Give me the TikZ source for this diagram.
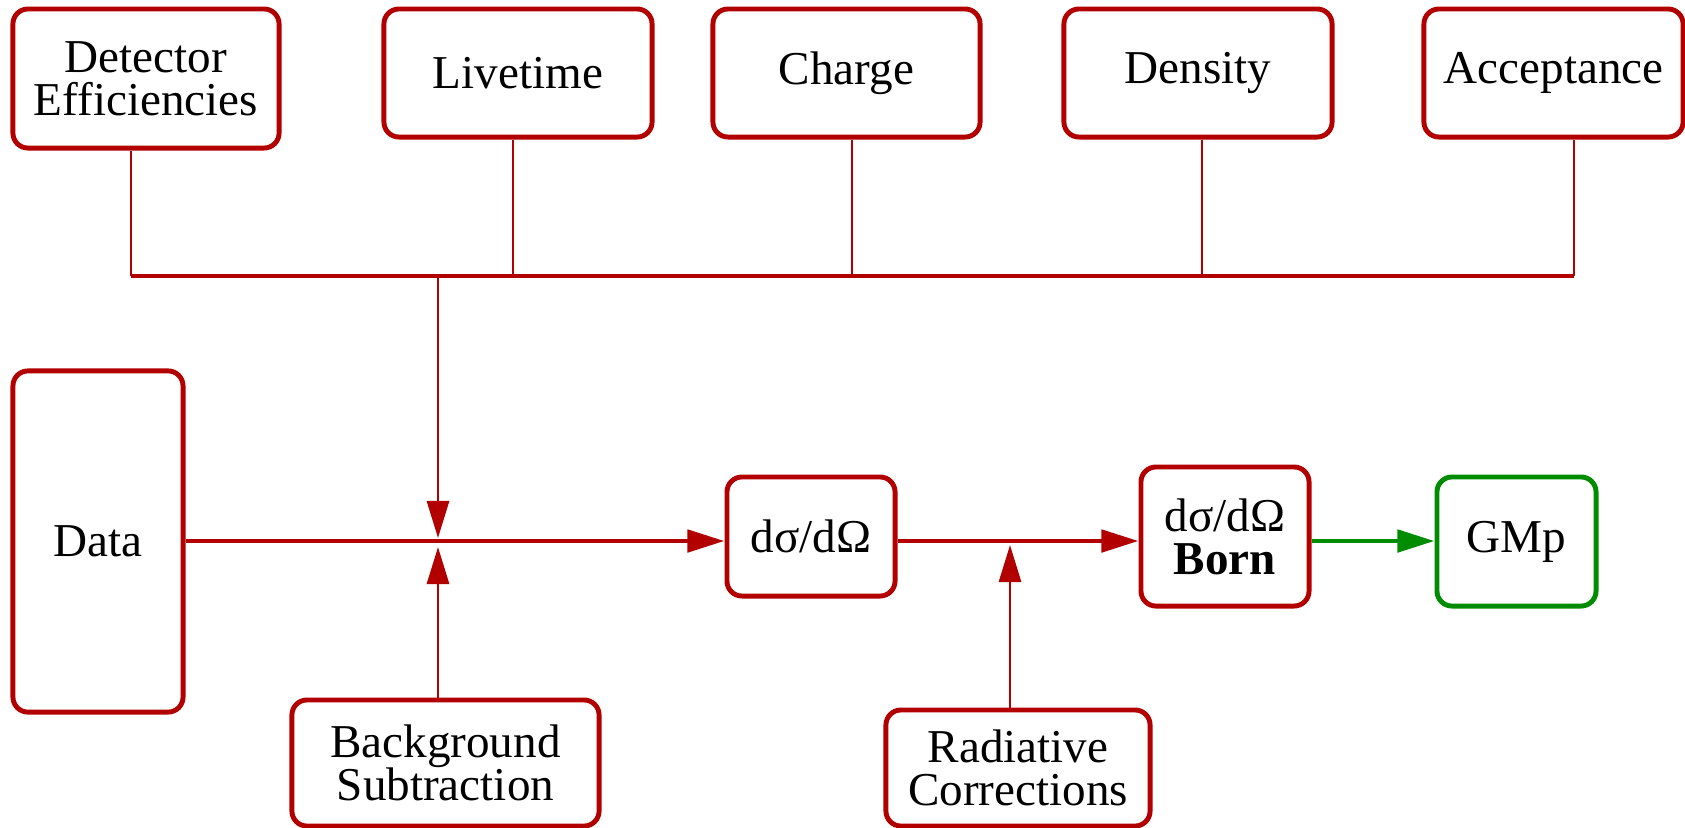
\documentclass[tikz,border=0pt]{standalone}
\usepackage{fontspec}
\setmainfont{Liberation Serif}
\usetikzlibrary{arrows.meta}

\definecolor{flowred}{RGB}{178,0,0}
\definecolor{flowgreen}{RGB}{0,140,0}

\tikzset{
  box/.style={draw=flowred, line width=1.4pt, rounded corners=0.15cm,
    align=center, inner sep=0pt, font=\fontsize{13.4}{12.3}\selectfont},
  feed/.style={flowred, line width=0.8pt},
  trunk/.style={flowred, line width=1.4pt},
}

\begin{document}
\begin{tikzpicture}[x=0.01cm, y=-0.01cm, >={Triangle[length=3.7mm,width=2.2mm]}]
  \useasboundingbox (0,0) rectangle (1685,827);

  % correction inputs on top
  \node[box, minimum width=2.66cm, minimum height=1.39cm] (det) at (146,78.5) {Detector\\Efficiencies};
  \node[box, minimum width=2.68cm, minimum height=1.28cm] (live) at (518,73) {Livetime};
  \node[box, minimum width=2.67cm, minimum height=1.28cm] (charge) at (846.5,73) {Charge};
  \node[box, minimum width=2.68cm, minimum height=1.28cm] (dens) at (1198,73) {Density};
  \node[box, minimum width=2.59cm, minimum height=1.28cm] (acc) at (1553.5,73) {Acceptance};

  % main chain
  \node[box, minimum width=1.70cm, minimum height=3.41cm] (data) at (98,541.5) {Data};
  \node[box, minimum width=1.68cm, minimum height=1.19cm] (xs) at (811,536.5) {dσ/dΩ};
  \node[box, minimum width=1.68cm, minimum height=1.39cm] (born) at (1225,536.5) {dσ/dΩ\\\textbf{Born}};
  \node[box, draw=flowgreen, minimum width=1.59cm, minimum height=1.29cm] (gmp) at (1516.5,541.5) {GMp};

  % lower inputs
  \node[box, minimum width=3.07cm, minimum height=1.26cm] (bkg) at (445.5,763) {Background\\Subtraction};
  \node[box, minimum width=2.64cm, minimum height=1.16cm] (rad) at (1018,768) {Radiative\\Corrections};

  \coordinate (bus) at (438,276);
  \coordinate (mix) at (438,541);
  \coordinate (rmix) at (1010,541);

  \foreach \n/\x in {det/131, live/513, charge/852, dens/1202, acc/1574} {
    \coordinate (j\n) at (\x,276);
    \draw[feed] (\n.south -| j\n) -- (j\n);
  }
  \draw[trunk] (jdet) -- (jacc);

  \draw[feed,->,shorten >=0.03cm] (bus) -- (mix);
  \draw[feed,->,shorten >=0.06cm] (bkg.north -| mix) -- (mix);
  \draw[trunk,->] (data.east |- mix) -- (xs.west |- mix);
  \draw[trunk,->] (xs.east |- mix) -- (born.west |- mix);
  \draw[feed,->,shorten >=0.04cm] (rad.north -| rmix) -- (rmix);
  \draw[trunk,flowgreen,->] (born.east |- mix) -- (gmp.west |- mix);
\end{tikzpicture}
\end{document}
